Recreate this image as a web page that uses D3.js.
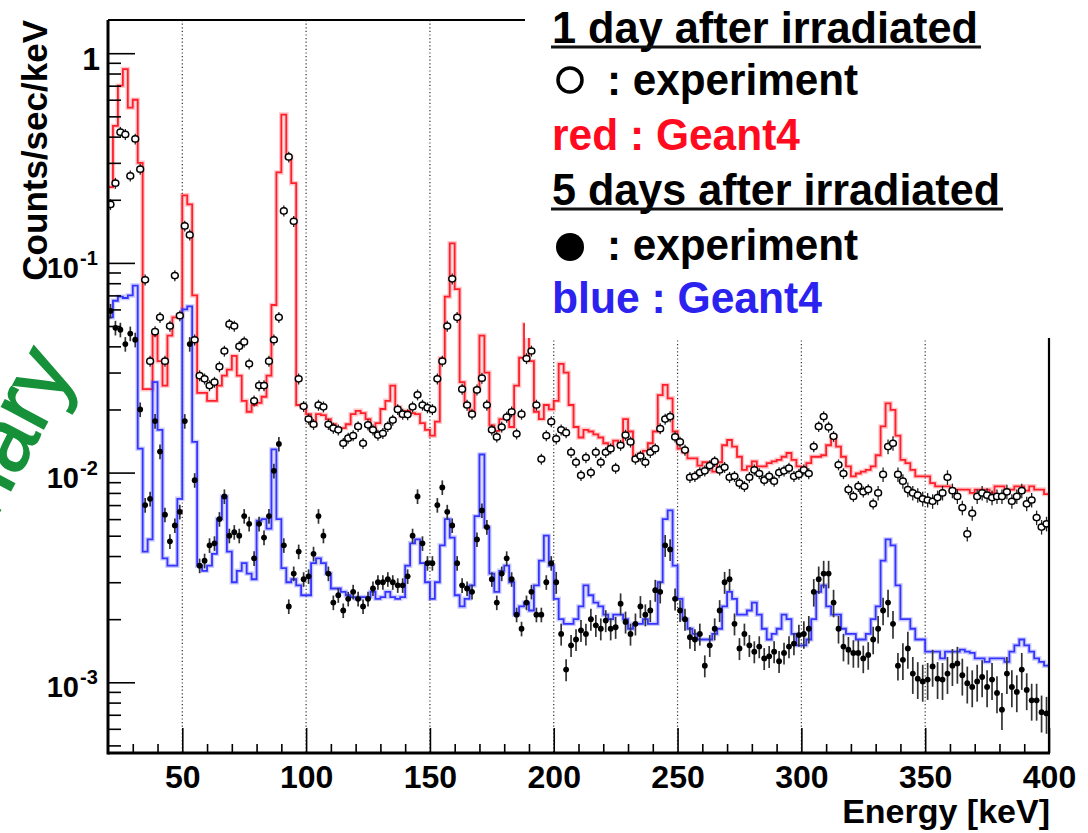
<!DOCTYPE html>
<html>
<head>
<meta charset="utf-8">
<script src="https://cdn.jsdelivr.net/npm/d3@7"></script>
<style>
  body { margin: 0; background: #fff; }
  svg { display: block; }
  .axis-label { font-family: "Liberation Sans", Arial, sans-serif; font-weight: bold; fill: #000; }
  .legend-text { font-family: "Liberation Sans", Arial, sans-serif; font-weight: bold; }
</style>
</head>
<body>
<svg id="chart" width="1088" height="833"></svg>
<script>
// Gamma spectra 1 day / 5 days after irradiation: Geant4 histograms vs. measured points.
// Histograms use 2 keV bins starting at 20 keV; measured points sit at the bin centres.

const BIN_START = 20; // keV
const BIN_WIDTH = 2; // keV

// Geant4, 1 day after irradiation (red), counts/sec/keV
const sim1Day = [
  0.23, 0.45, 0.70, 0.84, 0.55, 0.60, 0.30, 0.025, 0.025, 0.045,
  0.034, 0.026, 0.045, 0.055, 0.056, 0.21, 0.19, 0.07, 0.024, 0.024,
  0.022, 0.022, 0.026, 0.029, 0.031, 0.036, 0.029, 0.022, 0.0195, 0.021,
  0.0215, 0.023, 0.029, 0.063, 0.27, 0.51, 0.32, 0.24, 0.021, 0.0205,
  0.019, 0.0168, 0.019, 0.0188, 0.018, 0.017, 0.0163, 0.0163, 0.017, 0.019,
  0.0197, 0.0192, 0.018, 0.016, 0.0172, 0.0201, 0.022, 0.026, 0.0205, 0.0186,
  0.0197, 0.0192, 0.019, 0.0172, 0.016, 0.015, 0.0175, 0.035, 0.069, 0.124,
  0.075, 0.027, 0.0211, 0.0195, 0.025, 0.045, 0.030, 0.0168, 0.0158, 0.018,
  0.018, 0.0165, 0.026, 0.0353, 0.051, 0.034, 0.0195, 0.018, 0.021, 0.020,
  0.022, 0.033, 0.030, 0.021, 0.0165, 0.0147, 0.016, 0.0157, 0.0152, 0.0147,
  0.0138, 0.0133, 0.0142, 0.0138, 0.018, 0.0157, 0.0115, 0.0123, 0.0127, 0.0138,
  0.0157, 0.0234, 0.0262, 0.0226, 0.0157, 0.0130, 0.0125, 0.0117, 0.0117, 0.0108,
  0.0112, 0.0112, 0.0101, 0.0112, 0.0135, 0.0143, 0.0133, 0.0119, 0.0103, 0.0107,
  0.0113, 0.0107, 0.0107, 0.0111, 0.0113, 0.0115, 0.0119, 0.0124, 0.0115, 0.0107,
  0.0103, 0.0111, 0.0119, 0.0119, 0.0121, 0.0135, 0.0149, 0.0133, 0.0119, 0.0107,
  0.0096, 0.0099, 0.0101, 0.0103, 0.0107, 0.0121, 0.0166, 0.0214, 0.0199, 0.0150,
  0.0115, 0.0111, 0.0103, 0.0096, 0.0096, 0.0096, 0.0089, 0.0086, 0.0086, 0.0086,
  0.0083, 0.0083, 0.0083, 0.0083, 0.0080, 0.0083, 0.0083, 0.0083, 0.0080, 0.0086,
  0.0086, 0.0083, 0.0083, 0.0086, 0.0086, 0.0082, 0.0086, 0.0083, 0.0083, 0.0079
];

// Geant4, 5 days after irradiation (blue)
const sim5Day = [
  0.055, 0.066, 0.069, 0.068, 0.070, 0.078, 0.013, 0.0042, 0.0048, 0.027,
  0.016, 0.0039, 0.0036, 0.0036, 0.0075, 0.060, 0.062, 0.014, 0.0036, 0.0034,
  0.0036, 0.0041, 0.0060, 0.0077, 0.0042, 0.0030, 0.0034, 0.0037, 0.0033, 0.0031,
  0.0059, 0.0060, 0.0054, 0.0129, 0.0060, 0.0035, 0.0030, 0.0031, 0.0029, 0.0026,
  0.0026, 0.0037, 0.0039, 0.0037, 0.0033, 0.0028, 0.0028, 0.0027, 0.0026, 0.00255,
  0.0025, 0.00255, 0.00255, 0.0027, 0.0025, 0.00255, 0.0027, 0.00255, 0.0025, 0.00255,
  0.0036, 0.0046, 0.0048, 0.0037, 0.0030, 0.0025, 0.0030, 0.0045, 0.0060, 0.0049,
  0.0026, 0.0023, 0.0025, 0.0029, 0.0062, 0.0122, 0.0055, 0.0033, 0.0027, 0.0034,
  0.0036, 0.0030, 0.0021, 0.0023, 0.0024, 0.0022, 0.0029, 0.0038, 0.0050, 0.0036,
  0.0025, 0.0020, 0.0019, 0.0019, 0.0020, 0.0023, 0.0029, 0.0026, 0.0024, 0.0023,
  0.0021, 0.0020, 0.0021, 0.0021, 0.0020, 0.0018, 0.0019, 0.0019, 0.0020, 0.0019,
  0.0019, 0.0030, 0.0060, 0.0066, 0.0036, 0.0025, 0.0020, 0.0018, 0.0017, 0.0016,
  0.0016, 0.0016, 0.0017, 0.0018, 0.0023, 0.0027, 0.0025, 0.0021, 0.0021, 0.0022,
  0.0024, 0.0021, 0.0018, 0.0016, 0.0017, 0.0018, 0.0021, 0.0020, 0.0017, 0.0015,
  0.0015, 0.0016, 0.0020, 0.0027, 0.0029, 0.0023, 0.0021, 0.0021, 0.0018, 0.0017,
  0.0017, 0.0016, 0.0016, 0.0017, 0.0020, 0.0023, 0.0038, 0.0048, 0.0045, 0.0029,
  0.0020, 0.0020, 0.0018, 0.0016, 0.0016, 0.0014, 0.0014, 0.0014, 0.0013, 0.0014,
  0.0014, 0.0014, 0.00143, 0.0014, 0.00138, 0.0013, 0.0013, 0.00125, 0.0013, 0.0013,
  0.0013, 0.00125, 0.0014, 0.0015, 0.0016, 0.0015, 0.0014, 0.0013, 0.00125, 0.0012
];

// Measured, 1 day after irradiation (open circles)
const exp1Day = [
  0.19, 0.24, 0.42, 0.41, 0.26, 0.39, 0.28, 0.083, 0.034, 0.047,
  0.055, 0.034, 0.050, 0.087, 0.056, 0.15, 0.136, 0.043, 0.029, 0.028,
  0.026, 0.027, 0.032, 0.038, 0.051, 0.050, 0.040, 0.042, 0.033, 0.022,
  0.026, 0.026, 0.034, 0.043, 0.055, 0.177, 0.32, 0.158, 0.028, 0.0207,
  0.018, 0.017, 0.021, 0.0206, 0.017, 0.0163, 0.016, 0.0138, 0.0146, 0.015,
  0.0166, 0.0138, 0.0169, 0.016, 0.0151, 0.0154, 0.0166, 0.0178, 0.020, 0.019,
  0.0189, 0.0206, 0.0235, 0.021, 0.0204, 0.020, 0.028, 0.034, 0.050, 0.084,
  0.055, 0.025, 0.021, 0.019, 0.0248, 0.0282, 0.021, 0.016, 0.0148, 0.0165,
  0.0184, 0.0195, 0.0153, 0.019, 0.035, 0.038, 0.021, 0.0116, 0.015, 0.0175,
  0.0145, 0.016, 0.0155, 0.0125, 0.0112, 0.0097, 0.0118, 0.010, 0.0125, 0.0112,
  0.0125, 0.013, 0.0105, 0.0135, 0.0151, 0.014, 0.0116, 0.012, 0.0112, 0.0125,
  0.013, 0.0162, 0.018, 0.0185, 0.0148, 0.014, 0.0128, 0.0095, 0.0096, 0.010,
  0.0102, 0.0108, 0.0113, 0.0103, 0.0106, 0.0095, 0.0096, 0.0089, 0.0086, 0.0095,
  0.0103, 0.0099, 0.0092, 0.0096, 0.0091, 0.010, 0.0102, 0.0105, 0.0096, 0.0098,
  0.0103, 0.0099, 0.0133, 0.0166, 0.0185, 0.0165, 0.0149, 0.0109, 0.0099, 0.0083,
  0.0077, 0.0086, 0.0081, 0.0083, 0.0071, 0.0080, 0.0098, 0.0133, 0.0138, 0.0098,
  0.0091, 0.0083, 0.0080, 0.0078, 0.0075, 0.0074, 0.0073, 0.0076, 0.0080, 0.0095,
  0.0082, 0.0077, 0.0068, 0.0051, 0.0064, 0.0077, 0.0080, 0.0078, 0.0076, 0.0077,
  0.0077, 0.0081, 0.0073, 0.0077, 0.0082, 0.0071, 0.0074, 0.0061, 0.0055, 0.0057
];

// Measured, 5 days after irradiation (filled circles)
const exp5Day = [
  0.059, 0.049, 0.048, 0.041, 0.046, 0.043, 0.020, 0.0070, 0.0075, 0.0176,
  0.0126, 0.0063, 0.0047, 0.0056, 0.0065, 0.0176, 0.041, 0.0092, 0.0036, 0.0038,
  0.0045, 0.0046, 0.0060, 0.0077, 0.0050, 0.0052, 0.0050, 0.0062, 0.0057, 0.0039,
  0.0057, 0.0049, 0.0062, 0.0102, 0.0137, 0.0045, 0.0023, 0.0033, 0.0042, 0.0031,
  0.0032, 0.0041, 0.0062, 0.0050, 0.0033, 0.0024, 0.0026, 0.0022, 0.0025, 0.0027,
  0.0025, 0.0023, 0.0025, 0.0028, 0.0030, 0.0030, 0.0031, 0.0030, 0.0029, 0.0029,
  0.0032, 0.0050, 0.0077, 0.0046, 0.0037, 0.0037, 0.0070, 0.0085, 0.0065, 0.0056,
  0.0037, 0.0029, 0.0028, 0.0027, 0.0048, 0.0066, 0.0055, 0.0031, 0.0024, 0.0033,
  0.0039, 0.0031, 0.0021, 0.0018, 0.0024, 0.0027, 0.0021, 0.0021, 0.0030, 0.0037,
  0.0030, 0.0017, 0.00115, 0.0015, 0.0016, 0.00177, 0.0017, 0.0020, 0.00187, 0.0018,
  0.00197, 0.0018, 0.00183, 0.00237, 0.00194, 0.0017, 0.0019, 0.0023, 0.0021, 0.0022,
  0.00275, 0.0027, 0.0045, 0.0043, 0.0025, 0.0022, 0.0020, 0.00164, 0.0016, 0.0017,
  0.0012, 0.0015, 0.0018, 0.0022, 0.0030, 0.0031, 0.0019, 0.00145, 0.0017, 0.0015,
  0.0014, 0.00148, 0.0013, 0.00133, 0.0014, 0.00126, 0.00138, 0.00148, 0.00153, 0.00168,
  0.0017, 0.0018, 0.0027, 0.0031, 0.0033, 0.0033, 0.0024, 0.0018, 0.00148, 0.00143,
  0.00138, 0.00138, 0.0013, 0.00135, 0.0016, 0.0018, 0.0022, 0.0024, 0.0019, 0.0012,
  0.00128, 0.00145, 0.0011, 0.00104, 0.00101, 0.00103, 0.00119, 0.00104, 0.00103, 0.0011,
  0.0012, 0.00123, 0.00108, 0.00099, 0.00095, 0.00101, 0.00106, 0.00095, 0.00103, 0.00089,
  0.00074, 0.0011, 0.00095, 0.0009, 0.00115, 0.00092, 0.00082, 0.00082, 0.00072, 0.00071
];

// Relative statistical error of the measured points, by energy range
const err1Day = [{ from: 20, rel: 0.06 }, { from: 330, rel: 0.08 }];
const err5Day = [{ from: 20, rel: 0.08 }, { from: 200, rel: 0.12 }, { from: 300, rel: 0.15 }, { from: 340, rel: 0.2 }];

const xMajorTicks = [50, 100, 150, 200, 250, 300, 350, 400];
const xGridLines = [50, 100, 150, 200, 250, 300, 350];
const yMajorTicks = [1, 0.1, 0.01, 0.001];

const COLOURS = { red: '#ff1f2a', blue: '#3434ff', legendRed: '#ff0a1e', legendBlue: '#2b22f0', green: '#16913a' };

const width = 1088;
const frame = { left: 108, right: 1049, top: 20, bottom: 753 };

const svg = d3.select('#chart');

const x = d3.scaleLinear().domain([20, 400]).range([frame.left, frame.right]);
const y = d3.scaleLog().domain([4.6e-4, 1.44]).range([frame.bottom, frame.top]);

function relErr(steps, e) {
  let r = steps[0].rel;
  steps.forEach((s) => { if (e >= s.from) r = s.rel; });
  return r;
}

function histPoints(values) {
  const pts = values.map((v, i) => ({ e: BIN_START + i * BIN_WIDTH, v }));
  pts.push({ e: BIN_START + values.length * BIN_WIDTH, v: values[values.length - 1] });
  return pts;
}

function pointData(values, steps) {
  return values.map((v, i) => {
    const e = BIN_START + i * BIN_WIDTH + BIN_WIDTH / 2;
    return { e, v, r: relErr(steps, e) };
  });
}

svg.append('defs').append('clipPath').attr('id', 'plot-clip')
  .append('rect')
  .attr('x', frame.left).attr('y', frame.top)
  .attr('width', frame.right - frame.left).attr('height', frame.bottom - frame.top);

// "Preliminary" watermark, mostly cut off at the left edge
svg.append('text')
  .attr('transform', 'translate(76,368) rotate(-62)')
  .attr('text-anchor', 'end')
  .attr('font-family', '"Liberation Sans", Arial, sans-serif')
  .attr('font-size', 90)
  .attr('stroke', COLOURS.green)
  .attr('stroke-width', 1.5)
  .attr('fill', COLOURS.green)
  .text('Preliminary');

// dotted vertical gridlines
svg.append('g')
  .selectAll('line')
  .data(xGridLines)
  .join('line')
  .attr('x1', (d) => x(d)).attr('x2', (d) => x(d))
  .attr('y1', frame.top).attr('y2', frame.bottom)
  .attr('stroke', '#333')
  .attr('stroke-width', 1.2)
  .attr('stroke-dasharray', '1.2,2.4');

const plot = svg.append('g').attr('clip-path', 'url(#plot-clip)');

const stepLine = d3.line()
  .x((d) => x(d.e))
  .y((d) => y(d.v))
  .curve(d3.curveStepAfter);

[[sim1Day, COLOURS.red], [sim5Day, COLOURS.blue]].forEach(([values, colour]) => {
  plot.append('path')
    .datum(histPoints(values))
    .attr('fill', 'none')
    .attr('stroke', colour)
    .attr('stroke-opacity', 0.25)
    .attr('stroke-width', 4.5)
    .attr('d', stepLine);
  plot.append('path')
    .datum(histPoints(values))
    .attr('fill', 'none')
    .attr('stroke', colour)
    .attr('stroke-width', 1.8)
    .attr('d', stepLine);
});

// 1 day points: open circles with small error bars
const p1 = plot.append('g').selectAll('g').data(pointData(exp1Day, err1Day)).join('g');
p1.append('line')
  .attr('x1', (d) => x(d.e)).attr('x2', (d) => x(d.e))
  .attr('y1', (d) => y(d.v * (1 + d.r))).attr('y2', (d) => y(d.v * (1 - d.r)))
  .attr('stroke', '#222').attr('stroke-width', 1.3);
p1.append('ellipse')
  .attr('cx', (d) => x(d.e)).attr('cy', (d) => y(d.v))
  .attr('rx', 3.4).attr('ry', 3.1)
  .attr('fill', '#fff')
  .attr('stroke', '#000')
  .attr('stroke-width', 1.5);

// 5 days points: filled circles with error crosses
const p5 = plot.append('g').selectAll('g').data(pointData(exp5Day, err5Day)).join('g');
p5.append('line')
  .attr('x1', (d) => x(d.e)).attr('x2', (d) => x(d.e))
  .attr('y1', (d) => y(d.v * (1 + d.r))).attr('y2', (d) => y(d.v * (1 - d.r)))
  .attr('stroke', '#333').attr('stroke-width', 1.7);
p5.append('line')
  .attr('x1', (d) => x(d.e - BIN_WIDTH / 2)).attr('x2', (d) => x(d.e + BIN_WIDTH / 2))
  .attr('y1', (d) => y(d.v)).attr('y2', (d) => y(d.v))
  .attr('stroke', '#222').attr('stroke-width', 1.5);
p5.append('circle')
  .attr('cx', (d) => x(d.e)).attr('cy', (d) => y(d.v))
  .attr('r', 2.9)
  .attr('fill', '#000');

// axes (ticks inside the frame, ROOT style)
const xMinor = d3.range(30, 400, 10).filter((d) => d % 50 !== 0);

svg.append('g')
  .attr('transform', `translate(0,${frame.bottom})`)
  .call(d3.axisBottom(x).tickValues(xMinor).tickSize(-9).tickFormat(''))
  .call((g) => g.select('.domain').remove())
  .selectAll('line').attr('stroke', '#000').attr('stroke-width', 1.6);

svg.append('g')
  .attr('transform', `translate(0,${frame.bottom})`)
  .call(d3.axisBottom(x).tickValues(xMajorTicks).tickSize(-25).tickPadding(0))
  .call((g) => g.select('.domain').remove())
  .call((g) => g.selectAll('line').attr('stroke', '#000').attr('stroke-width', 1.6))
  .call((g) => g.selectAll('text')
    .attr('class', 'axis-label')
    .attr('y', 35)
    .attr('dy', null)
    .attr('font-size', 32));

const yMinor = [];
[-4, -3, -2, -1, 0].forEach((n) => {
  for (let k = 2; k <= 9; k++) {
    const v = k * Math.pow(10, n);
    if (v > y.domain()[0] && v < y.domain()[1]) yMinor.push(v);
  }
});

svg.append('g')
  .attr('transform', `translate(${frame.left},0)`)
  .call(d3.axisLeft(y).tickValues(yMinor).tickSize(-13).tickFormat(''))
  .call((g) => g.select('.domain').remove())
  .selectAll('line').attr('stroke', '#000').attr('stroke-width', 1.6);

svg.append('g')
  .attr('transform', `translate(${frame.left},0)`)
  .call(d3.axisLeft(y).tickValues(yMajorTicks).tickSize(-27).tickFormat(''))
  .call((g) => g.select('.domain').remove())
  .selectAll('line').attr('stroke', '#000').attr('stroke-width', 1.6);

const yLabels = svg.append('g').selectAll('g').data(yMajorTicks).join('g');
yLabels.each(function (d) {
  const g = d3.select(this);
  const exp = Math.round(Math.log10(d));
  if (exp === 0) {
    g.append('text')
      .attr('class', 'axis-label')
      .attr('x', 100).attr('y', y(d) + 17)
      .attr('text-anchor', 'end')
      .attr('font-size', 32)
      .text('1');
  } else {
    g.append('text')
      .attr('class', 'axis-label')
      .attr('x', 79).attr('y', y(d) + 15)
      .attr('text-anchor', 'end')
      .attr('font-size', 29)
      .text('10');
    g.append('text')
      .attr('class', 'axis-label')
      .attr('x', 80).attr('y', y(d) + 2)
      .attr('font-size', 20)
      .text(`-${-exp}`);
  }
});

// frame
svg.append('g')
  .call((g) => g.append('line').attr('x1', frame.left).attr('x2', frame.left).attr('y1', frame.top).attr('y2', frame.bottom + 1.5).attr('stroke', '#000').attr('stroke-width', 3))
  .call((g) => g.append('line').attr('x1', frame.left).attr('x2', frame.right + 1).attr('y1', frame.bottom).attr('y2', frame.bottom).attr('stroke', '#000').attr('stroke-width', 3))
  .call((g) => g.append('line').attr('x1', frame.left).attr('x2', frame.right).attr('y1', frame.top).attr('y2', frame.top).attr('stroke', '#000').attr('stroke-width', 2))
  .call((g) => g.append('line').attr('x1', frame.right).attr('x2', frame.right).attr('y1', frame.top).attr('y2', frame.bottom).attr('stroke', '#000').attr('stroke-width', 2.2));

// axis titles
svg.append('text')
  .attr('class', 'axis-label')
  .attr('transform', `translate(47,${frame.top}) rotate(-90)`)
  .attr('text-anchor', 'end')
  .attr('font-size', 35)
  .text('Counts/sec/keV');

svg.append('text')
  .attr('class', 'axis-label')
  .attr('x', 1050).attr('y', 823)
  .attr('text-anchor', 'end')
  .attr('font-size', 34)
  .text('Energy [keV]');

// legend panel
const legend = svg.append('g');
legend.append('rect')
  .attr('x', 525).attr('y', 0)
  .attr('width', width - 525).attr('height', 338)
  .attr('fill', '#fff');

const legendRows = [
  { text: '1 day after irradiated', x: 552, y: 43, len: 426, fill: '#000', underline: 47 },
  { text: ': experiment', x: 607, y: 95, len: 251, fill: '#000', marker: 'open', my: 80 },
  { text: 'red : Geant4', x: 552, y: 150, len: 248, fill: COLOURS.legendRed },
  { text: '5 days after irradiated', x: 552, y: 205, len: 448, fill: '#000', underline: 209 },
  { text: ': experiment', x: 607, y: 260, len: 251, fill: '#000', marker: 'filled', my: 247 },
  { text: 'blue : Geant4', x: 552, y: 313, len: 270, fill: COLOURS.legendBlue }
];

legendRows.forEach((row) => {
  legend.append('text')
    .attr('class', 'legend-text')
    .attr('x', row.x).attr('y', row.y)
    .attr('font-size', 45)
    .attr('textLength', row.len)
    .attr('lengthAdjust', 'spacingAndGlyphs')
    .attr('fill', row.fill)
    .text(row.text);
  if (row.underline) {
    legend.append('line')
      .attr('x1', row.x - 1).attr('x2', row.x + row.len + 3)
      .attr('y1', row.underline).attr('y2', row.underline)
      .attr('stroke', '#111').attr('stroke-width', 3);
  }
  if (row.marker === 'open') {
    legend.append('circle').attr('cx', 570).attr('cy', row.my).attr('r', 12)
      .attr('fill', 'none').attr('stroke', '#000').attr('stroke-width', 3.5);
  } else if (row.marker === 'filled') {
    legend.append('circle').attr('cx', 570).attr('cy', row.my).attr('r', 14).attr('fill', '#000');
  }
});
</script>
</body>
</html>
